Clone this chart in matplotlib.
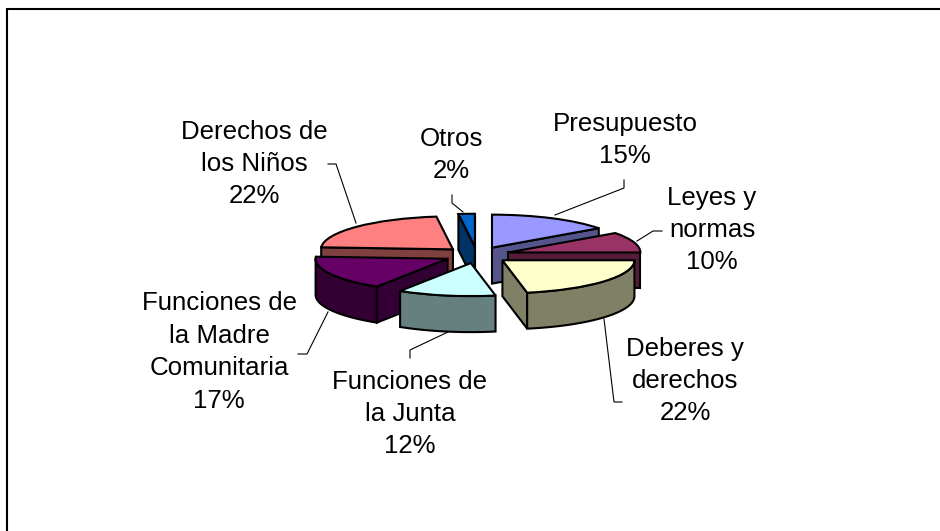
import matplotlib
matplotlib.use("Agg")
import numpy as np
import matplotlib.pyplot as plt
from matplotlib.patches import Polygon
from matplotlib.lines import Line2D

categories = ["Presupuesto", "Leyes y\nnormas", "Deberes y\nderechos", "Funciones de\nla Junta",
              "Funciones de\nla Madre\nComunitaria", "Derechos de\nlos Niños", "Otros"]
values = [15, 10, 22, 12, 17, 22, 2]
top_colors = ["#9999FF", "#993366", "#FFFFCC", "#CCFFFF", "#660066", "#FF8080", "#0066CC"]
side_colors = ["#55558C", "#541C38", "#808066", "#668080", "#330033", "#804040", "#003366"]
paint_order = [6, 0, 5, 1, 4, 2, 3]

W, H = 940, 531
plt.rcParams["font.family"] = ["Liberation Sans", "DejaVu Sans"]
fig = plt.figure(figsize=(W / 100, H / 100), dpi=100, facecolor="white")
ax = fig.add_axes([0, 0, 1, 1])

CX, CY, RX, RY, DEPTH = 477, 255, 132, 33, 36 / 33
EXPLODE = 0.25
LW = 1.5

wedges, _ = ax.pie(values, startangle=90, counterclock=False, explode=[EXPLODE] * len(values),
                   colors=top_colors, wedgeprops=dict(edgecolor="black", linewidth=LW))
ax.set_aspect("auto")
ax.set_xlim(-CX / RX, (W - CX) / RX)
ax.set_ylim(-(H - CY) / RY, CY / RY)
ax.set_axis_off()


def down(pts):
    return [(x, y - DEPTH) for x, y in pts]


for z, i in enumerate(paint_order):
    w = wedges[i]
    w.set_zorder(10 + 2 * z + 1)
    cx, cy = w.center
    t1, t2 = np.radians(w.theta1), np.radians(w.theta2)
    start = (cx + np.cos(t2), cy + np.sin(t2))
    end = (cx + np.cos(t1), cy + np.sin(t1))
    apex = (cx, cy)
    faces = []
    # straight cut faces, clockwise traversal: apex->start and end->apex
    if start[0] < apex[0] - 1e-9:
        faces.append([apex, start])
    if apex[0] < end[0] - 1e-9:
        faces.append([end, apex])
    # rim band: only the lower half of the rim faces the viewer
    th = np.linspace(t2, t1, 120)
    rim = [(cx + np.cos(t), cy + np.sin(t)) for t in th if np.sin(t) <= 0]
    if len(rim) > 1:
        faces.append(rim)
    for f in faces:
        ax.add_patch(Polygon(list(f) + down(f)[::-1], closed=True, facecolor=side_colors[i],
                             edgecolor="black", linewidth=LW, zorder=10 + 2 * z))


def to_fig(x, y):
    return (x / W, 1 - y / H)


# frame: only the top and left rules are visible in the picture
frame = [to_fig(940, 9), to_fig(6.7, 9), to_fig(6.7, 531)]
fig.add_artist(Line2D([p[0] for p in frame], [p[1] for p in frame], transform=fig.transFigure,
                      color="black", linewidth=1.5, solid_joinstyle="miter"))

label_pos = [(625, 140), (712, 230), (685, 381), (410, 414), (219, 352), (254, 164), (451, 155)]
for name, v, (x, y) in zip(categories, values, label_pos):
    fx, fy = to_fig(x, y)
    fig.text(fx, fy, f"{name}\n{v}%", ha="center", va="center", fontsize=18.6,
             linespacing=1.44, color="black", zorder=50)

leaders = [
    [(624, 180), (624, 188), (555, 215)],
    [(662, 231), (653, 231), (637, 241)],
    [(622, 402), (614, 402), (604, 319)],
    [(410, 358), (410, 350), (448, 332)],
    [(298, 354), (307, 354), (328, 312)],
    [(328, 164), (336, 164), (356, 223)],
    [(452, 195), (452, 203), (463, 212)],
]
for pts in leaders:
    fxy = [to_fig(*p) for p in pts]
    fig.add_artist(Line2D([p[0] for p in fxy], [p[1] for p in fxy], transform=fig.transFigure,
                          color="black", linewidth=0.8, zorder=40))

fig.savefig("out.png", dpi=100, facecolor="white")
